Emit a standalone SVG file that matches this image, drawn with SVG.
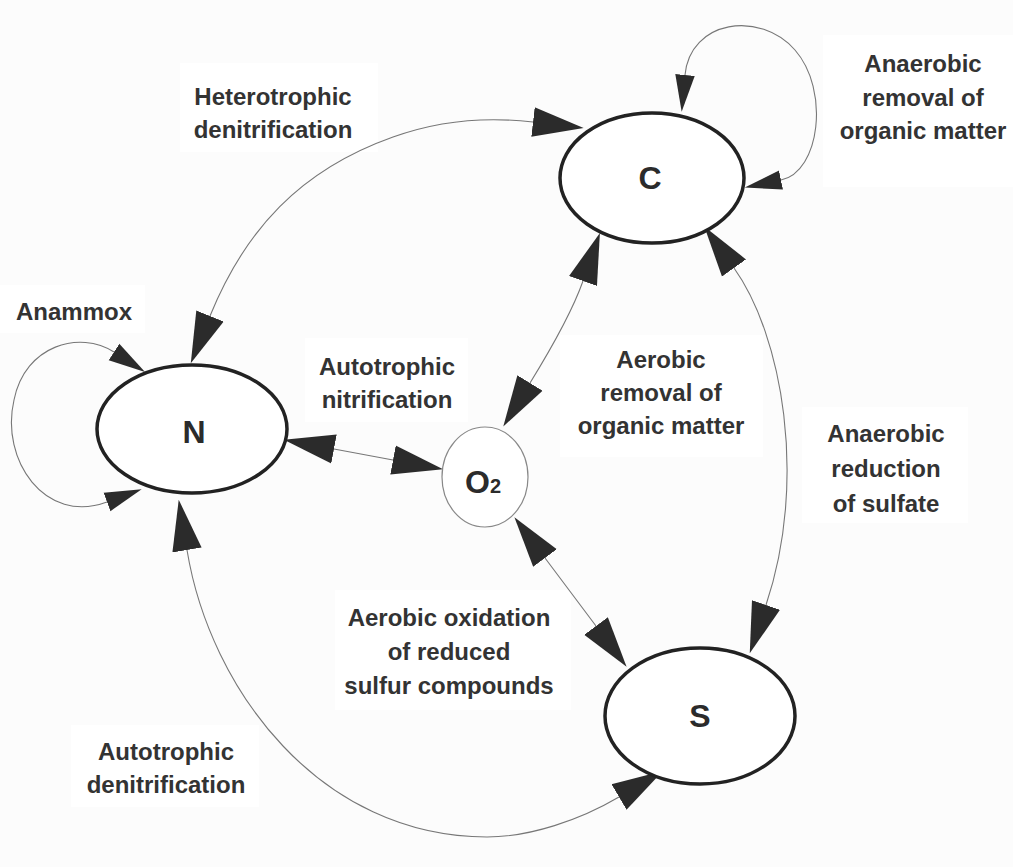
<svg xmlns="http://www.w3.org/2000/svg" width="1013" height="867" viewBox="0 0 1013 867">
<style>
.bg{fill:#fcfcfc}
.box{fill:#ffffff}
.lbl{font-family:"Liberation Sans",Arial,sans-serif;font-weight:bold;font-size:24px;fill:#333;text-anchor:middle}
.nodetxt{font-family:"Liberation Sans",Arial,sans-serif;font-weight:bold;font-size:32px;fill:#2b2b2b;text-anchor:middle}
.node{fill:#ffffff;stroke:#222;stroke-width:3.5}
.onode{fill:#ffffff;stroke:#888;stroke-width:1.2}
.conn{fill:none;stroke:#777;stroke-width:1.1}
.big{marker-start:url(#ahB);marker-end:url(#ahB)}
.small{marker-start:url(#ahS);marker-end:url(#ahS)}
</style>
<defs>
<marker id="ahB" markerUnits="userSpaceOnUse" markerWidth="52" markerHeight="32" viewBox="0 -15 51 30" refX="0" refY="0" orient="auto-start-reverse">
<path d="M0,-14.5 L50,0 L0,14.5 Z" fill="#2b2b2b"/>
</marker>
<marker id="ahS" markerUnits="userSpaceOnUse" markerWidth="38" markerHeight="22" viewBox="0 -10 37 20" refX="0" refY="0" orient="auto-start-reverse">
<path d="M0,-9.5 L36,0 L0,9.5 Z" fill="#2b2b2b"/>
</marker>
</defs>
<rect class="bg" x="0" y="0" width="1013" height="867"/>

<g id="label-boxes">
<rect class="box" x="180" y="63" width="198" height="89"/>
<rect class="box" x="823" y="35" width="190" height="152"/>
<rect class="box" x="0" y="285" width="145" height="48"/>
<rect class="box" x="305" y="338" width="163" height="84"/>
<rect class="box" x="560" y="335" width="203" height="122"/>
<rect class="box" x="802" y="407" width="166" height="116"/>
<rect class="box" x="335" y="590" width="236" height="120"/>
<rect class="box" x="71" y="725" width="188" height="82"/>
</g>

<g id="connectors">
<path id="e-heterotrophic" class="conn big" d="M210,316 C245,230 300,170 393,137 C440,120 490,117 533,122"/>
<path id="e-anaerobic-c-loop" class="conn small" d="M685,75 C690,20 760,10 795,50 C830,90 820,172 781,180"/>
<path id="e-anammox-loop" class="conn small" d="M114,352 C80,330 25,345 14,400 C0,460 45,525 107,502"/>
<path id="e-nitrification" class="conn big" d="M334,449 L393,460"/>
<path id="e-aerobic-c" class="conn big" d="M530,383 Q570,318 583,281"/>
<path id="e-aerobic-s" class="conn big" d="M545,558 L596,626"/>
<path id="e-sulfate" class="conn big" d="M734,268 C782,335 808,480 766,605"/>
<path id="e-autotrophic-denit" class="conn big" d="M187,550 C210,690 320,837 487,837 C530,837 580,820 619,797"/>
</g>

<g id="node-C">
<ellipse class="node" cx="652" cy="178" rx="92" ry="65"/>
<text class="nodetxt" x="650" y="189">C</text>
</g>
<g id="node-N">
<ellipse class="node" cx="192" cy="429" rx="95" ry="64"/>
<text class="nodetxt" x="194" y="443">N</text>
</g>
<g id="node-S">
<ellipse class="node" cx="700" cy="716" rx="95" ry="68"/>
<text class="nodetxt" x="700" y="727">S</text>
</g>
<g id="node-O2">
<ellipse class="onode" cx="485" cy="477" rx="43" ry="50"/>
<text class="nodetxt" x="483" y="493">O<tspan font-size="20">2</tspan></text>
</g>

<g id="labels">
<text class="lbl" x="273" y="105">Heterotrophic</text>
<text class="lbl" x="273" y="138">denitrification</text>
<text class="lbl" x="923" y="72">Anaerobic</text>
<text class="lbl" x="923" y="106">removal of</text>
<text class="lbl" x="923" y="139">organic matter</text>
<text class="lbl" x="74" y="320">Anammox</text>
<text class="lbl" x="387" y="375">Autotrophic</text>
<text class="lbl" x="387" y="408">nitrification</text>
<text class="lbl" x="661" y="368">Aerobic</text>
<text class="lbl" x="661" y="401">removal of</text>
<text class="lbl" x="661" y="434">organic matter</text>
<text class="lbl" x="886" y="442">Anaerobic</text>
<text class="lbl" x="886" y="477">reduction</text>
<text class="lbl" x="886" y="512">of sulfate</text>
<text class="lbl" x="449" y="626">Aerobic oxidation</text>
<text class="lbl" x="449" y="660">of reduced</text>
<text class="lbl" x="449" y="694">sulfur compounds</text>
<text class="lbl" x="166" y="760">Autotrophic</text>
<text class="lbl" x="166" y="793">denitrification</text>
</g>
</svg>
